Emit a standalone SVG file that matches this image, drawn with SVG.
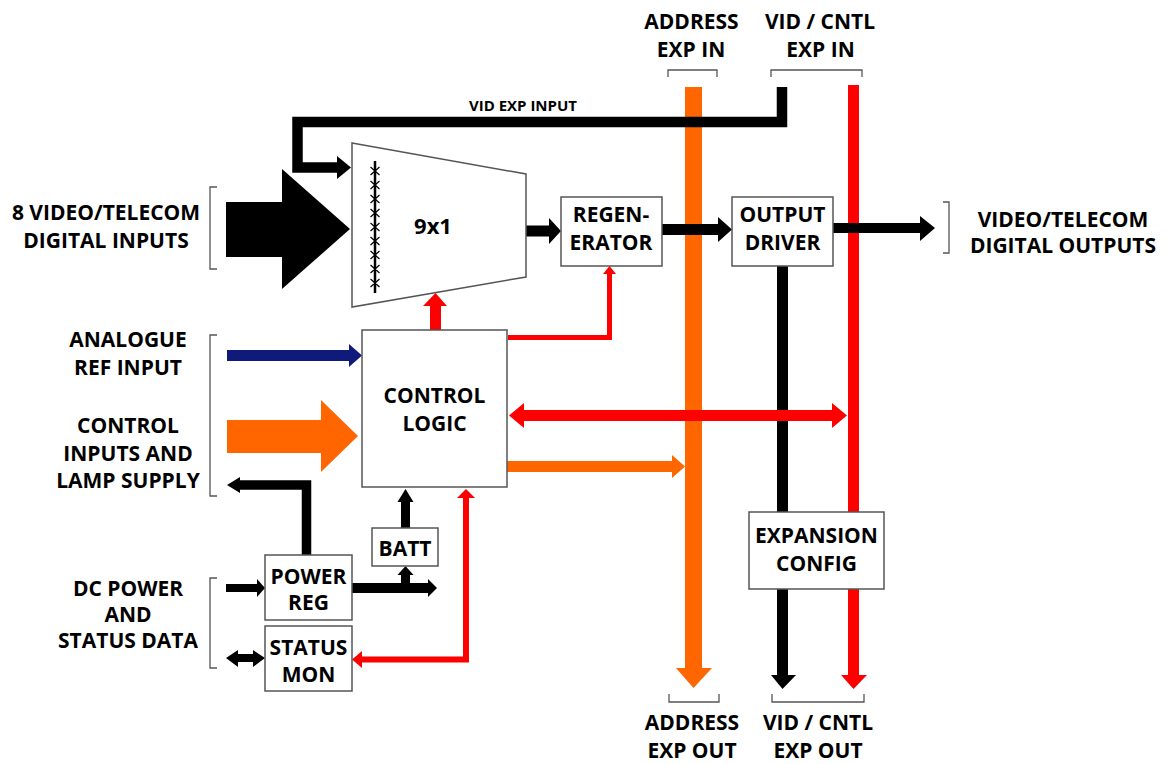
<svg xmlns="http://www.w3.org/2000/svg" width="1170" height="764" viewBox="0 0 1170 764">
<style>
.t{font-family:"Open Sans","Liberation Sans",sans-serif;font-weight:700;font-size:21px;text-anchor:middle;fill:#000}
.box{fill:#fff;stroke:#555;stroke-width:1.5}
.br{fill:none;stroke:#555;stroke-width:1.3}
.k{fill:#000}.r{fill:#f00}.o{fill:#f60}.n{fill:#0f1a7a}
.ln{fill:none;stroke-linejoin:miter}
</style>
<rect width="1170" height="764" fill="#fff"/>
<g id="labels">
<text class="t" x="691.5" y="29">ADDRESS</text>
<text class="t" x="691" y="57">EXP IN</text>
<text class="t" x="820" y="29">VID / CNTL</text>
<text class="t" x="820.5" y="57">EXP IN</text>
<text class="t" x="692" y="730">ADDRESS</text>
<text class="t" x="692" y="758">EXP OUT</text>
<text class="t" x="818" y="730">VID / CNTL</text>
<text class="t" x="818" y="758">EXP OUT</text>
<text class="t" x="106" y="220">8 VIDEO/TELECOM</text>
<text class="t" x="106" y="248">DIGITAL INPUTS</text>
<text class="t" x="1063" y="227">VIDEO/TELECOM</text>
<text class="t" x="1063" y="253">DIGITAL OUTPUTS</text>
<text class="t" x="128" y="347">ANALOGUE</text>
<text class="t" x="128" y="375">REF INPUT</text>
<text class="t" x="128" y="433">CONTROL</text>
<text class="t" x="128" y="461">INPUTS AND</text>
<text class="t" x="128" y="488">LAMP SUPPLY</text>
<text class="t" x="128" y="596">DC POWER</text>
<text class="t" x="128" y="622">AND</text>
<text class="t" x="128" y="648">STATUS DATA</text>
<text class="t" x="523" y="111" style="font-size:15px">VID EXP INPUT</text>
</g>
<g id="brackets">
<path class="br" d="M217 187 H210 V269 H217"/>
<path class="br" d="M217 335 H210 V496 H217"/>
<path class="br" d="M217 578 H210 V668 H217"/>
<path class="br" d="M943 202 H949 V253 H943"/>
<path class="br" d="M668 77 V70 H717 V77"/>
<path class="br" d="M771 77 V70 H862 V77"/>
<path class="br" d="M669 694 V702 H719 V694"/>
<path class="br" d="M772 694 V702 H864 V694"/>
</g>
<g id="connectors">
<rect class="o" x="685" y="87" width="17" height="582"/>
<polygon class="o" points="676,668 712,668 693.5,688"/>
<rect class="r" x="848" y="85" width="11" height="591"/>
<polygon class="r" points="841,675 867,675 853.5,689"/>
<rect class="k" x="777" y="266" width="11" height="410"/>
<polygon class="k" points="771,675 796,675 782.5,689"/>
<path class="ln" d="M782 87 V122 H297.5 V167.5 H338" stroke="#000" stroke-width="10.5"/>
<polygon class="k" points="337,156 351,167.5 337,179"/>
<polygon class="k" points="226,202 282,202 282,169 350,229 282,289 282,257 226,257"/>
<rect class="k" x="526" y="225.5" width="24" height="11"/>
<polygon class="k" points="549,218 561,231 549,244"/>
<rect class="k" x="662" y="224" width="57" height="11"/>
<polygon class="k" points="718,217 732,229.5 718,242"/>
<rect class="k" x="833" y="223" width="88" height="10"/>
<polygon class="k" points="920,216 935,228 920,241"/>
<rect class="r" x="430" y="305" width="11" height="25"/>
<polygon class="r" points="423,306 447,306 435.5,293"/>
<path class="ln" d="M508 337.5 H609.5 V273" stroke="#f00" stroke-width="5"/>
<polygon class="r" points="603,274 616,274 609.5,266"/>
<rect class="r" x="523" y="410" width="310" height="11"/>
<polygon class="r" points="524,403 509,415.5 524,428"/>
<polygon class="r" points="832,403 847,415.5 832,428"/>
<rect class="o" x="507" y="461" width="166" height="11"/>
<polygon class="o" points="672,455 685,466.5 672,478"/>
<rect class="n" x="227" y="350" width="123" height="11"/>
<polygon class="n" points="349,344 362,355.5 349,367"/>
<polygon class="o" points="227,420 321,420 321,400 358,436 321,472 321,453 227,453"/>
<path class="ln" d="M306.5 555 V485 H238" stroke="#000" stroke-width="9.5"/>
<polygon class="k" points="240,477 227,485 240,493"/>
<rect class="k" x="401" y="500" width="9" height="28"/>
<polygon class="k" points="397.5,502 413.5,502 405.5,489"/>
<rect class="k" x="352" y="583" width="77" height="10"/>
<polygon class="k" points="428,579 437,588 428,597"/>
<rect class="k" x="401" y="574" width="9" height="10"/>
<polygon class="k" points="397.5,575 413.5,575 405.5,566"/>
<path class="ln" d="M466 498 V659.5 H361" stroke="#f00" stroke-width="6"/>
<polygon class="r" points="457,498 475,498 466,489"/>
<polygon class="r" points="362,651 352,659.5 362,668"/>
<rect class="k" x="226" y="584" width="32" height="8"/>
<polygon class="k" points="257,579 265,588 257,597"/>
<rect class="k" x="236" y="654" width="19" height="8"/>
<polygon class="k" points="238,650 226,658 238,667"/>
<polygon class="k" points="253,650 265,658 253,667"/>
</g>
<g id="mux">
<polygon class="box" points="352,143 526,174 526,277 352,307"/>
<line x1="375" y1="161" x2="375" y2="293" stroke="#000" stroke-width="2.5"/>
<path d="M370.5 167 L379.5 175 M379.5 167 L370.5 175 M370.5 181 L379.5 189 M379.5 181 L370.5 189 M370.5 195 L379.5 203 M379.5 195 L370.5 203 M370.5 209 L379.5 217 M379.5 209 L370.5 217 M370.5 223 L379.5 231 M379.5 223 L370.5 231 M370.5 237 L379.5 245 M379.5 237 L370.5 245 M370.5 251 L379.5 259 M379.5 251 L370.5 259 M370.5 265 L379.5 273 M379.5 265 L370.5 273 M370.5 279 L379.5 287 M379.5 279 L370.5 287" stroke="#000" stroke-width="1.2" fill="none"/>
<text class="t" x="433" y="234" style="font-size:22px">9x1</text>
</g>
<g id="regenerator">
<rect class="box" x="561" y="197" width="101" height="69"/>
<text class="t" x="611" y="222">REGEN-</text>
<text class="t" x="611" y="250">ERATOR</text>
</g>
<g id="output-driver">
<rect class="box" x="732" y="197" width="101" height="69"/>
<text class="t" x="782.5" y="222">OUTPUT</text>
<text class="t" x="782.5" y="250">DRIVER</text>
</g>
<g id="control-logic">
<rect class="box" x="362" y="330" width="145" height="157"/>
<text class="t" x="434.5" y="403">CONTROL</text>
<text class="t" x="434.5" y="431">LOGIC</text>
</g>
<g id="batt">
<rect class="box" x="372" y="528" width="66" height="38"/>
<text class="t" x="405" y="556">BATT</text>
</g>
<g id="power-reg">
<rect class="box" x="265" y="555" width="87" height="65"/>
<text class="t" x="308.5" y="584">POWER</text>
<text class="t" x="308.5" y="610">REG</text>
</g>
<g id="status-mon">
<rect class="box" x="265" y="626" width="87" height="65"/>
<text class="t" x="308.5" y="655">STATUS</text>
<text class="t" x="308.5" y="682">MON</text>
</g>
<g id="expansion-config">
<rect class="box" x="749" y="512" width="135" height="77"/>
<text class="t" x="816.5" y="543">EXPANSION</text>
<text class="t" x="816.5" y="571">CONFIG</text>
</g>
</svg>
